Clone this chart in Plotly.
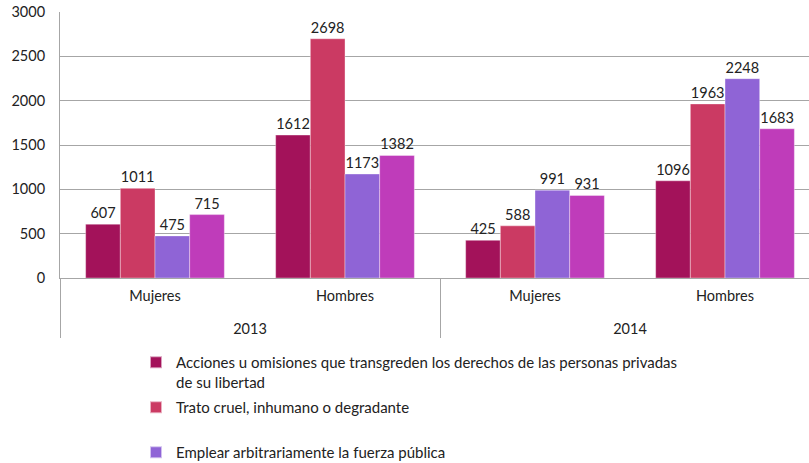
import plotly.graph_objects as go

years = ["2013", "2013", "2014", "2014"]
sexes = ["Mujeres", "Hombres", "Mujeres", "Hombres"]
series_names = [
    "Acciones u omisiones que transgreden los derechos de las personas privadas<br>de su libertad",
    "Trato cruel, inhumano o degradante<br> ",
    "Emplear arbitrariamente la fuerza pública",
    "Otras violaciones",
]
acciones = [607, 1612, 425, 1096]
trato = [1011, 2698, 588, 1963]
fuerza = [475, 1173, 991, 2248]
otras = [715, 1382, 931, 1683]
values = [acciones, trato, fuerza, otras]
colors = ["#A3125A", "#CB3A63", "#8F64D6", "#BF3CBA"]
show_legend = [True, True, True, False]

# extra blank line under the inner labels pushes the year row lower
inner = [s + "<br> " for s in sexes]

FONT = "Lato"
fig = go.Figure()
for i, (name, vals, col, sl) in enumerate(zip(series_names, values, colors, show_legend)):
    fig.add_trace(go.Bar(
        x=[years, inner], y=vals, name=name, legendgroup=f"g{i}",
        marker=dict(color=col, line=dict(color="rgba(255,255,255,0.6)", width=0.6)),
        text=[str(v) for v in vals], textposition="outside",
        textfont=dict(size=14.5, color="#222222", family=FONT),
        cliponaxis=False, showlegend=sl,
    ))

fig.update_layout(
    width=809, height=463,
    margin=dict(l=60, r=0, t=12, b=185, autoexpand=False),
    paper_bgcolor="white", plot_bgcolor="white",
    barmode="group", bargap=0.27, bargroupgap=0,
    font=dict(family=FONT, size=14, color="#222222"),
    legend=dict(
        x=(136 - 60) / 749, xanchor="left", y=-0.2556, yanchor="top",
        font=dict(size=15, color="#222222", family=FONT),
        valign="top", tracegroupgap=3, itemsizing="constant",
        bgcolor="rgba(0,0,0,0)",
    ),
)
fig.update_xaxes(
    type="multicategory", range=[-0.5, 3.442],
    showline=True, linecolor="#a6a6a6", linewidth=1,
    showdividers=True, dividercolor="#a6a6a6", dividerwidth=1,
    tickfont=dict(size=14.5, color="#222222", family=FONT),
    showgrid=False, ticks="", ticklabelstandoff=5,
)
fig.update_yaxes(
    range=[0, 3000], dtick=500, tick0=0,
    showgrid=True, gridcolor="#a6a6a6", gridwidth=1,
    showline=True, linecolor="#a6a6a6", linewidth=1,
    zeroline=False, ticks="outside", ticklen=11, tickcolor="rgba(0,0,0,0)",
    tickfont=dict(size=14.5, color="#222222", family=FONT),
)
fig.write_html("out.html", config={"displayModeBar": False},
               post_script="document.body.style.margin='0';")
